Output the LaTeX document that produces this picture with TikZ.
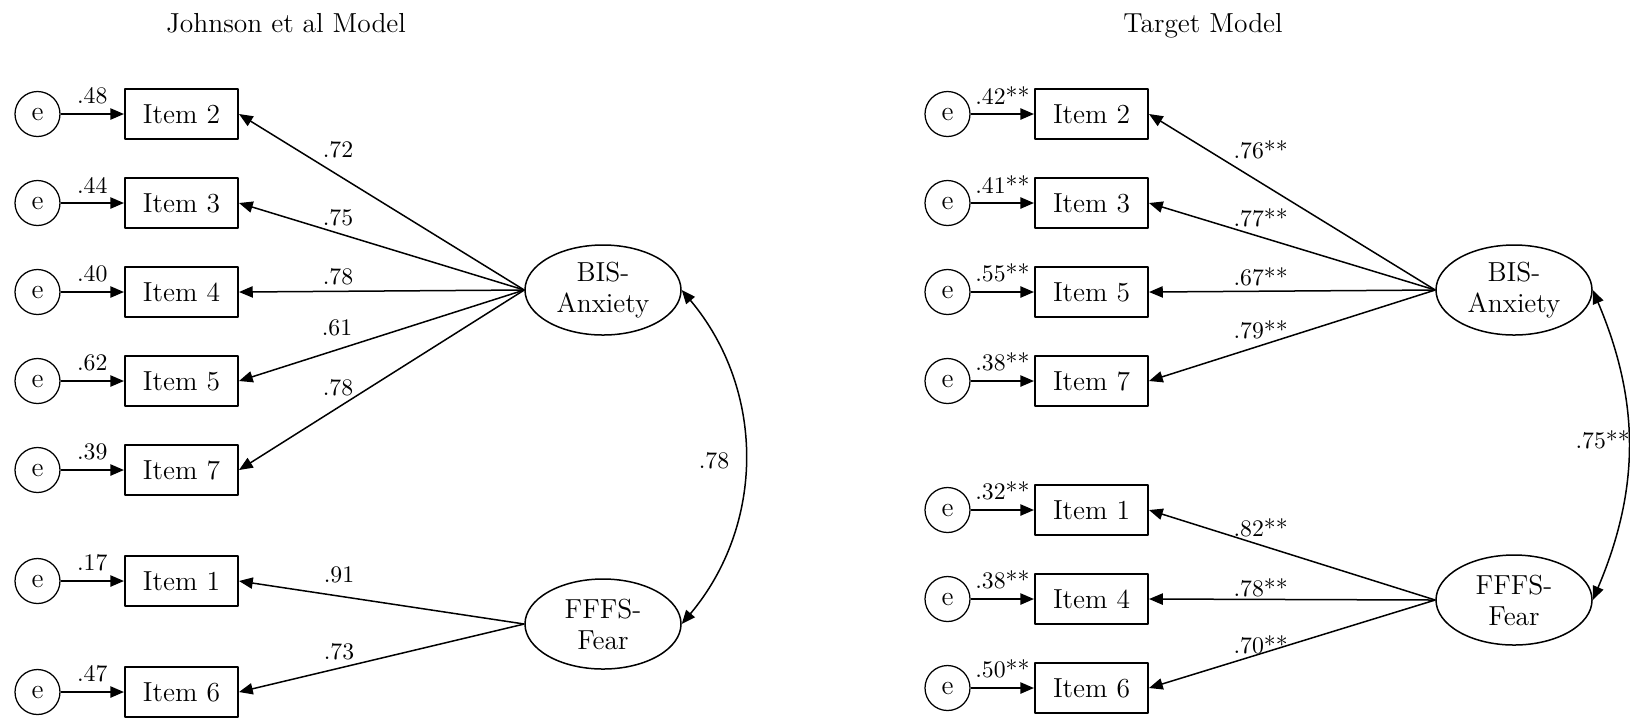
\documentclass[tikz,border=0pt]{standalone}
\usetikzlibrary{shapes.geometric,arrows.meta}
\begin{document}
\begin{tikzpicture}[x=0.4pt, y=-0.4pt, line join=round, >={Triangle[length=5.5pt,width=4.5pt]},
  font=\fontsize{11}{13}\selectfont,
  err/.style={circle,draw,line width=.5pt,minimum size=18pt,inner sep=0pt},
  item/.style={draw,line width=.8pt,minimum width=45.2pt,minimum height=20pt,inner sep=0pt},
  fac/.style={ellipse,draw,line width=.6pt,minimum width=62.4pt,minimum height=36pt,inner sep=0pt,align=center,font=\fontsize{11}{12.4}\selectfont},
  coef/.style={inner sep=0pt,font=\fontsize{9.5}{11}\selectfont},
  errarr/.style={->,line width=.8pt},
  load/.style={->,line width=.6pt}]
\useasboundingbox (0,0) rectangle (1630,723);

% Johnson et al model
\node[anchor=base] (titleL) at (286,32) {Johnson et al Model};
\node[fac] (bisL) at (603,290) {BIS-\\Anxiety};
\node[fac] (fffsL) at (603,624) {FFFS-\\Fear};
\foreach \n/\y/\r in {2/114/.48,3/203/.44,4/292/.40,5/381/.62,7/470/.39,1/581/.17,6/692/.47}{
  \node[item] (iL\n) at (181.5,\y) {Item \n};
  \node[err] (eL\n) at (37.5,\y) {e};
  \draw[errarr] (eL\n) -- node[coef,above=3.6pt]{\r} (iL\n);
}
\foreach \n/\c/\x/\y in {2/.72/338/150,3/.75/338/218,4/.78/338/277,5/.61/337/328,7/.78/338/388}{
  \draw[load] (bisL.west) -- (iL\n.east);
  \node[coef] (cL\n) at (\x,\y) {\c};
}
\foreach \n/\c/\x/\y in {1/.91/339/575,6/.73/339/652}{
  \draw[load] (fffsL.west) -- (iL\n.east);
  \node[coef] (cL\n) at (\x,\y) {\c};
}
\draw[<->,line width=.6pt] (bisL.east) to[bend left=40] (fffsL.east);
\node[coef] (rL) at (714,461) {.78};

% target model
\node[anchor=base] (titleR) at (1203,32) {Target Model};
\node[fac] (bisR) at (1514,290) {BIS-\\Anxiety};
\node[fac] (fffsR) at (1514,600) {FFFS-\\Fear};
\foreach \n/\y/\r in {2/114/.42**,3/203/.41**,5/292/.55**,7/381/.38**,1/510/.32**,4/599/.38**,6/688/.50**}{
  \node[item] (iR\n) at (1091.5,\y) {Item \n};
  \node[err] (eR\n) at (947.5,\y) {e};
  \draw[errarr] (eR\n) -- node[coef,above=3.6pt]{\r} (iR\n);
}
\foreach \n/\c/\y in {2/.76**/150,3/.77**/218,5/.67**/277,7/.79**/330}{
  \draw[load] (bisR.west) -- (iR\n.east);
  \node[coef,anchor=west] (cR\n) at (1233,\y) {\c};
}
\foreach \n/\c/\y in {1/.82**/528,4/.78**/588,6/.70**/645}{
  \draw[load] (fffsR.west) -- (iR\n.east);
  \node[coef,anchor=west] (cR\n) at (1233,\y) {\c};
}
\draw[<->,line width=.6pt] (bisR.east) to[bend left=23] (fffsR.east);
\node[coef,anchor=west] (rR) at (1575,440) {.75**};
\end{tikzpicture}
\end{document}
